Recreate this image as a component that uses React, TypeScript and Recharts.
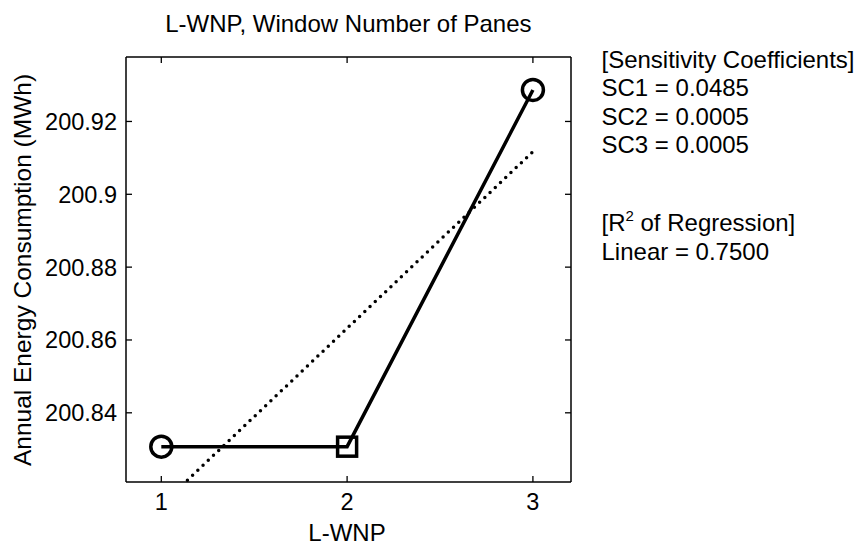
import React from "react";
import { LineChart, Line, XAxis, YAxis } from "recharts";

// ---- data ----
const levels = [1, 2, 3];
const energy = [200.8307, 200.8307, 200.92865];
const fitX = [1, 3];
const fitY = [200.8147, 200.9117];
const xTicks = [1, 2, 3];
const yTicks = [200.84, 200.86, 200.88, 200.9, 200.92];
const yTickLabels = ["200.84", "200.86", "200.88", "200.9", "200.92"];
const titleText = "L-WNP, Window Number of Panes";
const xLabelText = "L-WNP";
const yLabelText = "Annual Energy Consumption (MWh)";
const sensTitle = "[Sensitivity Coefficients]";
const sensNames = ["SC1", "SC2", "SC3"];
const sensValues = ["0.0485", "0.0005", "0.0005"];
const r2Title = ["[R", "2", " of Regression]"];
const r2Line = "Linear = 0.7500";

const mainData = levels.map((x, i) => ({ x, y: energy[i] }));
const fitData = fitX.map((x, i) => ({ x, y: fitY[i] }));

const FONT = "'Liberation Sans', Arial, Helvetica, sans-serif";
const FS = 24;
const X_DOMAIN: [number, number] = [0.81, 3.205];
const Y_DOMAIN: [number, number] = [200.821, 200.9377];

const BottomTick = (props: any) => {
  const { x, y, payload } = props;
  return (
    <g>
      <line x1={x} y1={y} x2={x} y2={y - 6} stroke="#000" strokeWidth={1.3} />
      <text x={x} y={y + 28} textAnchor="middle" fontSize={FS - 0.5} fontFamily={FONT} fill="#000">
        {payload.value}
      </text>
    </g>
  );
};
const TopTick = (props: any) => {
  const { x, y } = props;
  return <line x1={x} y1={y} x2={x} y2={y + 6} stroke="#000" strokeWidth={1.3} />;
};
const LeftTick = (props: any) => {
  const { x, y, payload } = props;
  const i = yTicks.indexOf(payload.value);
  const label = i >= 0 ? yTickLabels[i] : String(payload.value);
  return (
    <g>
      <line x1={x} y1={y} x2={x + 6} y2={y} stroke="#000" strokeWidth={1.3} />
      <text x={x - 9} y={y} dy="0.36em" textAnchor="end" fontSize={FS - 0.5} fontFamily={FONT} fill="#000">
        {label}
      </text>
    </g>
  );
};
const RightTick = (props: any) => {
  const { x, y } = props;
  return <line x1={x} y1={y} x2={x - 6} y2={y} stroke="#000" strokeWidth={1.3} />;
};

const MarkerDot = (props: any) => {
  const { cx, cy, index } = props;
  if (index === 1) {
    return (
      <rect key={`m${index}`} x={cx - 9.5} y={cy - 9.5} width={19} height={19} fill="none" stroke="#000" strokeWidth={3.5} />
    );
  }
  return <circle key={`m${index}`} cx={cx} cy={cy} r={10.5} fill="none" stroke="#000" strokeWidth={3.5} />;
};

export default function App() {
  return (
    <div style={{ position: "absolute", left: 0, top: 0, width: 867, height: 546, background: "#fff" }}>
      <LineChart width={867} height={546} margin={{ top: 56, right: 295, bottom: 0, left: 0 }}>
        <XAxis
          dataKey="x"
          type="number"
          domain={X_DOMAIN}
          ticks={xTicks}
          allowDataOverflow
          height={64}
          tickSize={0}
          tickMargin={0}
          tickLine={false}
          tick={BottomTick}
          axisLine={{ stroke: "#000", strokeWidth: 1.5 }}
          interval={0}
        />
        <XAxis
          xAxisId="top"
          dataKey="x"
          orientation="top"
          type="number"
          domain={X_DOMAIN}
          ticks={xTicks}
          allowDataOverflow
          height={1}
          tickSize={0}
          tickMargin={0}
          tickLine={false}
          tick={TopTick}
          axisLine={{ stroke: "#000", strokeWidth: 1.5 }}
          interval={0}
        />
        <YAxis
          type="number"
          domain={Y_DOMAIN}
          ticks={yTicks}
          allowDataOverflow
          width={126}
          tickSize={0}
          tickMargin={0}
          tickLine={false}
          tick={LeftTick}
          axisLine={{ stroke: "#000", strokeWidth: 1.5 }}
          interval={0}
        />
        <YAxis
          yAxisId="right"
          orientation="right"
          type="number"
          domain={Y_DOMAIN}
          ticks={yTicks}
          allowDataOverflow
          width={1}
          tickSize={0}
          tickMargin={0}
          tickLine={false}
          tick={RightTick}
          axisLine={{ stroke: "#000", strokeWidth: 1.5 }}
          interval={0}
        />
        <Line
          xAxisId="top"
          yAxisId="right"
          data={mainData}
          dataKey="y"
          stroke="none"
          strokeWidth={0}
          dot={false}
          activeDot={false}
          legendType="none"
          isAnimationActive={false}
        />
        <Line
          data={fitData}
          dataKey="y"
          stroke="#000"
          strokeWidth={3.5}
          strokeDasharray="0 7.2"
          strokeLinecap="round"
          dot={false}
          activeDot={false}
          isAnimationActive={false}
        />
        <Line
          data={mainData}
          dataKey="y"
          stroke="#000"
          strokeWidth={3.5}
          dot={MarkerDot}
          activeDot={false}
          isAnimationActive={false}
        />
      </LineChart>
      <svg
        width={867}
        height={546}
        style={{ position: "absolute", left: 0, top: 0, pointerEvents: "none" }}
        fontFamily={FONT}
        fontSize={FS}
        fill="#000"
      >
        <text x={348.4} y={32} textAnchor="middle">{titleText}</text>
        <text x={347} y={541} textAnchor="middle">{xLabelText}</text>
        <text transform="translate(31,270) rotate(-90)" textAnchor="middle" fontSize={24.5}>{yLabelText}</text>
        <text x={601.5} y={67.5}>{sensTitle}</text>
        {sensNames.map((n, i) => (
          <text key={n} x={601.5} y={96 + i * 28.5}>{`${n} = ${sensValues[i]}`}</text>
        ))}
        <text x={601.5} y={231}>
          {r2Title[0]}
          <tspan dy={-10} fontSize={15}>{r2Title[1]}</tspan>
          <tspan dy={10}>{r2Title[2]}</tspan>
        </text>
        <text x={601.5} y={259.5}>{r2Line}</text>
      </svg>
    </div>
  );
}
